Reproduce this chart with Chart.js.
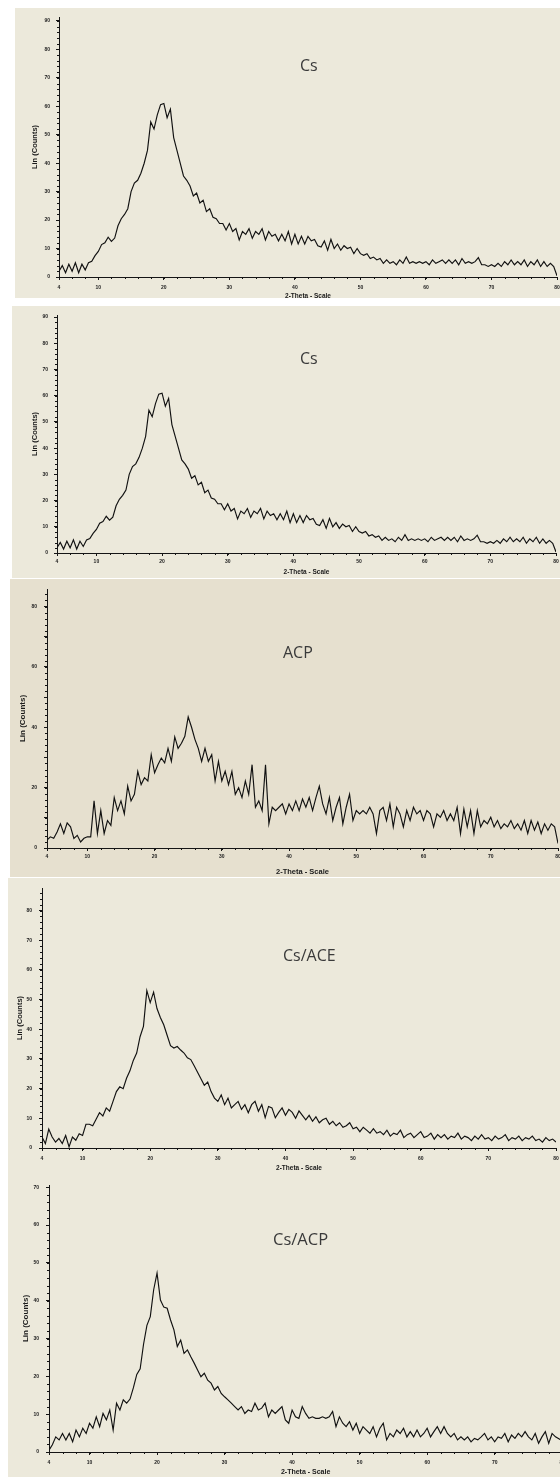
<!DOCTYPE html>
<html><head><meta charset="utf-8">
<script src="https://cdn.jsdelivr.net/npm/chart.js@4.4.1/dist/chart.umd.min.js"></script>
<style>
html,body{margin:0;padding:0;background:#fff;width:560px;height:1477px;overflow:hidden;position:relative;}
.bg{position:absolute;}
canvas{position:absolute;left:0;}
.ttl{position:absolute;font-family:"Open Sans",sans-serif;color:#3a3a3a;white-space:nowrap;line-height:1;}
</style></head><body>
<script>
// ---- data ----
const twoTheta = [
4,4.5,5,5.5,6,6.5,7,7.5,8,8.5,
9,9.5,10,10.5,11,11.5,12,12.5,13,13.5,
14,14.5,15,15.5,16,16.5,17,17.5,18,18.5,
19,19.5,20,20.5,21,21.5,22,22.5,23,23.5,
24,24.5,25,25.5,26,26.5,27,27.5,28,28.5,
29,29.5,30,30.5,31,31.5,32,32.5,33,33.5,
34,34.5,35,35.5,36,36.5,37,37.5,38,38.5,
39,39.5,40,40.5,41,41.5,42,42.5,43,43.5,
44,44.5,45,45.5,46,46.5,47,47.5,48,48.5,
49,49.5,50,50.5,51,51.5,52,52.5,53,53.5,
54,54.5,55,55.5,56,56.5,57,57.5,58,58.5,
59,59.5,60,60.5,61,61.5,62,62.5,63,63.5,
64,64.5,65,65.5,66,66.5,67,67.5,68,68.5,
69,69.5,70,70.5,71,71.5,72,72.5,73,73.5,
74,74.5,75,75.5,76,76.5,77,77.5,78,78.5,
79,79.5,80];

const csCounts = [
2,4,1.5,4.5,2,5,1.5,4.5,2.5,5,
5.5,7.5,9,11.4,12,14,12.5,13.7,18,20.5,
22,24,30,33,34,36.5,40,44.5,54.5,52,
57,60.6,61,56,59,49,44.5,40,35.5,34,
32,28.5,29.5,26,27,23,24,21,20.5,18.8,
18.8,16.5,18.8,16,17,13,16,15,17,13.6,
16,15,17,13,16,14.3,15,12.7,15,12.7,
16,11.6,15,11.6,14.3,11.6,14.3,12.7,13.2,11,
10.5,12.7,9.4,13.2,10,11.6,9.4,11,10,10.5,
8.2,10,8.2,7.6,8.2,6.5,7,6,6.5,4.8,
6,4.8,5.4,4.3,6,4.8,7,4.8,5.4,4.8,
5.4,4.8,5.4,4.3,6,4.8,5.4,6,4.8,6,
4.8,6,4.3,6.5,4.8,5.4,4.8,5.4,6.8,4.3,
4.3,3.7,4.3,3.7,4.8,3.7,5.4,4.3,6,4.3,
5.4,4.3,6,3.7,5.4,4.3,6,3.7,5.4,3.7,
4.8,3.7,0.4];

const acpCounts = [
2.6,3.7,3.2,5.3,8,4.8,8.3,7,3.2,4.2,
2,3.2,3.7,3.7,15.6,4.8,12.4,4.8,9.1,7.5,
16.7,12.4,15.6,11.3,20.5,15.6,17.8,25.4,21,23.3,
22.2,30.9,24.9,27.6,29.8,28.2,33,28.7,36.8,33,
34.7,37,43.4,40,36,33,28.7,33,28.7,30.9,
22.2,28.7,22.2,25.4,21,25.4,17.8,20,16.7,22.2,
17.8,27.6,13.5,15.6,12.4,27.6,8,13.5,12.4,13.5,
14.6,11.3,14.6,12.4,15.6,12.4,16.2,13.5,16.7,12.4,
16.7,20.5,14.6,11.3,16.7,9.1,13.5,16.7,8,13.5,
17.8,9.1,12.4,11.3,12.4,11.3,13.5,11.3,4.8,12.4,
13.5,9.1,14.6,7,13.5,11.3,7,12.4,9.1,13.5,
11.3,12.4,9.1,12.4,11.3,7,11.3,10.2,12.4,9.1,
11.3,9.1,13.5,4.8,12.9,7,12.4,4.8,12.4,7,
9.1,8,10.2,7,9.1,6.4,8,7,9.1,6.4,
8,5.9,9.1,4.8,9.1,5.9,8.6,4.8,8,5.9,
8,7,1.5];

const csAceCounts = [
3.7,1.5,6.4,3.7,2,3.2,1.5,4.2,0.4,3.7,
2.6,4.8,4.2,8,8,7.5,9.7,11.9,10.8,13.5,
12.4,15.7,19,20.6,20,23.5,26,29.5,32,37.5,
41,53,49,52.5,47,44,41.5,38,34.5,33.7,
34.2,33,32,30.4,29.8,27.7,25.5,23.3,21.1,22.2,
19,16.8,15.7,17.9,14.6,16.8,13.5,14.6,15.7,13,
14.6,11.9,14.6,15.7,12.4,14.6,10.2,14,13.5,10.2,
12,13.5,11,13,12,10,12.5,11,9.5,11,
9,10.5,8.5,9.5,10,8,9,7.5,8.5,7,
7.5,8.5,6.5,7,5.5,7,6,5,6.5,5,
5.5,4.5,6,4,5,4.5,6,3.5,4.5,5,
3.5,4.5,5.5,3.5,4,5,3,4.5,3.5,4.5,
3,4,3.5,5,3,4,3.5,2.5,4,3,
4.5,3,3.5,2.5,4,3,3.5,4.5,2.5,3.5,
3,4,2.5,3.5,3,4,2.5,3,2,3.5,
2.5,3,2];

const csAcpCounts = [
0.5,1.9,4,3.2,4.9,3.2,4.9,2.7,5.8,4,
6.3,4.9,7.6,6.3,9.3,6.7,10.2,8.5,11.1,5.8,
12.9,11.1,13.8,12.9,14,17,20.5,22,28.5,33.5,
35.8,42.9,47.3,40.2,38.3,38,34.9,32.3,27.9,29.6,
26.1,27,25.2,23.5,21.7,19.9,20.8,19,18.2,16.4,
17.3,15.5,14.6,13.8,12.9,12,11.1,12,10.2,11.1,
10.7,12.9,11.1,11.6,12.9,9.3,11.1,10.2,11.1,12,
8.5,7.6,11.1,9.3,8.9,12,10.2,8.9,9.3,8.9,
8.9,9.3,8.9,9.3,10.7,6.7,9.3,7.6,6.7,8,
5.8,7.6,4.9,6.7,5.8,4.9,6.7,4,6.3,7.6,
3.2,4.9,4,5.8,4.9,6.3,4,5.4,4,5.8,
4,4.9,6.3,4,5.4,6.7,4.9,6.7,4.9,4,
4.9,3.2,4,3.2,4,2.7,3.6,3.2,4,4.9,
3.2,4,2.7,4,3.6,4.9,2.7,4.5,3.6,4.9,
4,5.4,4,3.2,4.9,2.3,4,5.4,2.3,4.9,
4,3.5,3];

const xTickValues = [4,10,20,30,40,50,60,70,80];
const csYTicks = [0,10,20,30,40,50,60,70,80,90];
const csYLabels = ['0','10','20','30','40','50','60','70','80','90'];
const acpYTicks = [0,10,20,30,40,50,60,70,80];
const acpYLabels = ['0','','20','','40','','60','','80'];
const aceYTicks = [0,10,20,30,40,50,60,70,80];
const aceYLabels = ['0','10','20','30','40','50','60','70','80'];
const cspYTicks = [0,10,20,30,40,50,60,70];
const cspYLabels = ['0','10','20','30','40','50','60','70'];
const panelTitles = ['Cs','Cs','ACP','Cs/ACE','Cs/ACP'];
const xAxisTitle = '2-Theta - Scale';
const yAxisTitle = 'Lin (Counts)';

// ---- layout (page pixels) ----
const CW = 570;
const panels = [
 {bg:[15,8,545,290,'#ece9db'], top:8, h:294, area:{l:59,t:10,r:557,b:277}, yMax:91.4, yT:csYTicks, yL:csYLabels, y:csCounts,
  title:panelTitles[0], tp:[300,65,16], yTitleX:35, yTitleSize:7.5, yLabRight:50, xLabY:288, xTitleY:296, xTitleSize:6.5},
 {bg:[12,306,548,272,'#ece9db'], top:306, h:274, area:{l:57,t:307,r:556,b:553}, yMax:90.8, yT:csYTicks, yL:csYLabels, y:csCounts,
  title:panelTitles[1], tp:[300,358,16], yTitleX:35, yTitleSize:7.5, yLabRight:48, xLabY:562, xTitleY:572, xTitleSize:6.5},
 {bg:[10,579,550,298,'#e6e0cf'], top:579, h:298, area:{l:47,t:585,r:558,b:848}, yMax:85.8, yT:acpYTicks, yL:acpYLabels, y:acpCounts,
  title:panelTitles[2], tp:[283,652,16], yTitleX:23, yTitleSize:8, yLabRight:37, xLabY:857, xTitleY:872, xTitleSize:7.5},
 {bg:[8,878,552,292,'#ece9db'], top:878, h:294, area:{l:42,t:880,r:556,b:1148}, yMax:87.6, yT:aceYTicks, yL:aceYLabels, y:csAceCounts,
  title:panelTitles[3], tp:[283,955,16], yTitleX:20, yTitleSize:7.5, yLabRight:32, xLabY:1159, xTitleY:1168, xTitleSize:6.5},
 {bg:[8,1170,552,307,'#ece9db'], top:1172, h:305, area:{l:49,t:1185,r:567,b:1452}, yMax:70.6, yT:cspYTicks, yL:cspYLabels, y:csAcpCounts,
  title:panelTitles[4], tp:[273,1240,16.5], yTitleX:26, yTitleSize:8, yLabRight:39, xLabY:1463, xTitleY:1472, xTitleSize:7}
];

const minorTicks = {
  id:'minorTicks',
  afterDraw(chart, args, o){
    const {ctx, scales:{x, y}} = chart;
    ctx.save();
    ctx.strokeStyle = '#151515'; ctx.lineWidth = 1;
    ctx.beginPath();
    for (let v = x.min; v <= x.max + 1e-6; v += o.xStep){
      const px = Math.round(x.getPixelForValue(v)) + 0.5;
      ctx.moveTo(px, y.bottom); ctx.lineTo(px, y.bottom + 2);
    }
    for (let v = 0; v <= y.max + 1e-6; v += o.yStep){
      const py = Math.round(y.getPixelForValue(v)) + 0.5;
      ctx.moveTo(x.left - 2, py); ctx.lineTo(x.left, py);
    }
    ctx.stroke();
    ctx.restore();
  }
};

const TL = 3;
const FONT = '"Liberation Sans", Arial, sans-serif';
panels.forEach(p => {
  const bg = document.createElement('div'); bg.className = 'bg';
  Object.assign(bg.style, {left:p.bg[0]+'px', top:p.bg[1]+'px', width:p.bg[2]+'px', height:p.bg[3]+'px', background:p.bg[4]});
  document.body.appendChild(bg);

  const cv = document.createElement('canvas');
  cv.width = CW; cv.height = p.h;
  cv.style.top = p.top + 'px'; cv.style.width = CW + 'px'; cv.style.height = p.h + 'px';
  document.body.appendChild(cv);

  const a = p.area;
  const tickSize = 5, tickLH = tickSize * 1.2;
  const yTLH = p.yTitleSize * 1.2, xTLH = p.xTitleSize * 1.2;
  const xHeight = p.top + p.h - a.b;

  new Chart(cv, {
    type:'line',
    data:{datasets:[{data: twoTheta.map((v,i)=>({x:v, y:p.y[i]})), borderColor:'#111', borderWidth:1.15, pointRadius:0, tension:0, fill:false}]},
    plugins:[minorTicks],
    options:{
      responsive:false, animation:false, devicePixelRatio:1,
      layout:{padding:{left:0, top:a.t - p.top, right:CW - a.r, bottom:0}},
      plugins:{legend:{display:false}, tooltip:{enabled:false}, title:{display:false}, minorTicks:{xStep:2, yStep:2}},
      scales:{
        x:{type:'linear', min:4, max:80,
          afterBuildTicks: s => { s.ticks = xTickValues.map(v => ({value:v})); },
          afterFit: s => { s.height = xHeight; },
          grid:{display:true, drawOnChartArea:false, drawTicks:true, tickLength:TL, color:'#151515', lineWidth:1},
          border:{display:true, color:'#151515', width:1},
          ticks:{autoSkip:false, maxRotation:0, color:'#222', font:{family:FONT, size:tickSize, weight:'bold', lineHeight:1.2},
            padding: p.xLabY - a.b - TL - tickLH/2, callback: v => String(v)},
          title:{display:true, text:xAxisTitle, color:'#1a1a1a', font:{family:FONT, size:p.xTitleSize, weight:'bold', lineHeight:1.2},
            padding:{top:0, bottom: p.top + p.h - p.xTitleY - xTLH/2}}
        },
        y:{type:'linear', min:0, max:p.yMax,
          afterBuildTicks: s => { s.ticks = p.yT.map(v => ({value:v})); },
          afterFit: s => { s.width = a.l; },
          grid:{display:true, drawOnChartArea:false, drawTicks:true, tickLength:TL, color:'#151515', lineWidth:1},
          border:{display:true, color:'#151515', width:1},
          ticks:{autoSkip:false, color:'#222', font:{family:FONT, size:tickSize, weight:'bold', lineHeight:1.2},
            padding: a.l - TL - p.yLabRight, callback: (v, i) => p.yL[i]},
          title:{display:true, text:yAxisTitle, color:'#1a1a1a', font:{family:FONT, size:p.yTitleSize, weight:'bold', lineHeight:1.2},
            padding:{top: p.yTitleX - yTLH/2, bottom:0}}
        }
      }
    }
  });

  const t = document.createElement('div'); t.className = 'ttl';
  t.textContent = p.title;
  Object.assign(t.style, {left:p.tp[0]+'px', top:(p.tp[1] - 0.53*p.tp[2])+'px', fontSize:p.tp[2]+'px'});
  document.body.appendChild(t);
});
</script>
</body></html>
